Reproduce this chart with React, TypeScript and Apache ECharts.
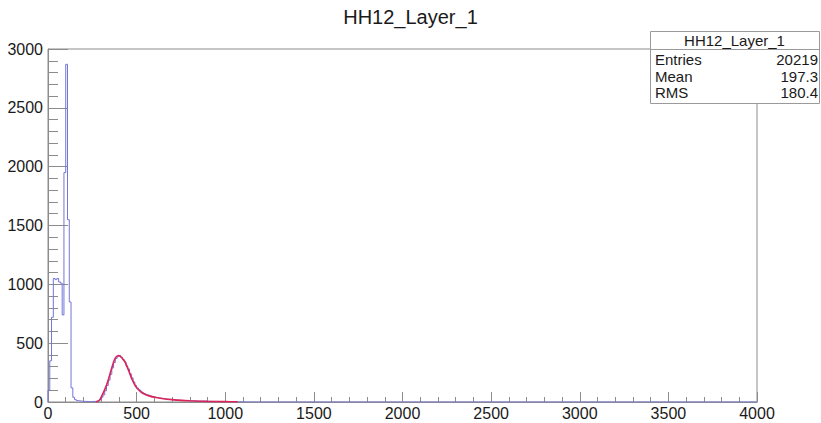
import React, { useEffect, useRef } from "react";
import * as echarts from "echarts";

const TITLE = "HH12_Layer_1";
const BIN_WIDTH = 10;
const X_MIN = 0;
const X_MAX = 4000;
const Y_MAX = 3000;

// bin contents, bins of width 10 starting at 0 (bins after the list are empty)
const peakBins = [100, 350, 720, 1050, 1040, 1050, 1020, 1010, 740, 1950, 2870, 1550, 850, 120];
const valleyBins = [40, 20, 12, 10, 8, 6, 5, 5, 4, 4, 4, 5];
const signalBins = [
  5, 8, 10, 20, 40, 60, 95, 140, 185, 235, 290, 335, 370, 385, 395, 380, 360, 340, 305, 280,
  240, 205, 170, 140, 120, 105, 92, 80, 72, 64, 58, 52, 47, 44, 40, 37, 34, 32, 30, 28,
  26, 24, 22, 21, 20, 18, 17, 16, 15, 14, 13, 12, 11, 11, 10,
];
const tailBins = [10, 9, 9, 8, 8, 7, 7, 7, 6, 6, 6, 5, 5, 5, 5, 4, 4, 4, 4, 3, 3, 3, 3, 3, 2, 2, 2, 2, 1, 1];

// fit curve
const fitX = [270, 290, 303, 320, 340, 355, 368, 380, 397, 410, 420, 433, 453, 475, 500, 525, 546, 575, 602, 651, 700, 750, 800, 850, 900, 950, 1000, 1070];
const fitY = [0, 15, 50, 105, 188, 265, 330, 375, 395, 385, 370, 345, 275, 190, 120, 85, 66, 50, 40, 28, 20, 14, 10, 7, 5, 4, 3, 2];

const statsLabels = ["Entries", "Mean", "RMS"];
const statsValues = ["20219", "197.3", "180.4"];

const FONT = "'Liberation Sans', Arial, Helvetica, sans-serif";

export default function App() {
  const ref = useRef<HTMLDivElement>(null);
  useEffect(() => {
    if (!ref.current) return;
    const chart = echarts.init(ref.current, undefined, { renderer: "svg" });
    const counts = [...peakBins, ...valleyBins, ...signalBins, ...tailBins];
    const nBins = Math.round((X_MAX - X_MIN) / BIN_WIDTH);
    const histData: number[][] = [[X_MIN, 0]];
    for (let i = 0; i < nBins; i++) {
      histData.push([X_MIN + i * BIN_WIDTH, counts[i] ?? 0]);
    }
    histData.push([X_MAX, 0]);
    const fitData = fitX.map((x, i) => [x, fitY[i]]);

    const axisColor = "#8c8c8c";
    const labelStyle = { color: "#1a1a1a", fontSize: 16, fontFamily: FONT, formatter: (v: number) => String(v) };

    const boxLeft = 650;
    const boxTop = 31;
    const boxW = 169;
    const boxH = 72;
    const rowY = [59, 76, 92];

    const graphics: any[] = [
      {
        type: "rect",
        z: 100,
        shape: { x: boxLeft + 0.5, y: boxTop + 0.5, width: boxW, height: boxH },
        style: { fill: "#ffffff", stroke: "#9a9a9a", lineWidth: 1 },
      },
      {
        type: "line",
        z: 101,
        shape: { x1: boxLeft, y1: 49.5, x2: boxLeft + boxW, y2: 49.5 },
        style: { stroke: "#9a9a9a", lineWidth: 1 },
      },
      {
        type: "text",
        z: 102,
        x: boxLeft + boxW / 2,
        y: 40,
        style: { text: TITLE, fill: "#1a1a1a", font: `15px ${FONT}`, textAlign: "center", textVerticalAlign: "middle" },
      },
    ];
    statsLabels.forEach((lab, i) => {
      graphics.push({
        type: "text",
        z: 102,
        x: boxLeft + 5,
        y: rowY[i],
        style: { text: lab, fill: "#1a1a1a", font: `15px ${FONT}`, textAlign: "left", textVerticalAlign: "middle" },
      });
      graphics.push({
        type: "text",
        z: 102,
        x: boxLeft + boxW - 1,
        y: rowY[i],
        style: { text: statsValues[i], fill: "#1a1a1a", font: `15px ${FONT}`, textAlign: "right", textVerticalAlign: "middle" },
      });
    });

    chart.setOption({
      animation: false,
      backgroundColor: "#ffffff",
      title: {
        text: TITLE,
        left: "center",
        top: 2,
        textStyle: { fontSize: 20, fontWeight: "normal", color: "#1a1a1a", fontFamily: FONT },
      },
      grid: {
        left: 48,
        right: 64,
        top: 49,
        bottom: 21,
        show: true,
        borderColor: axisColor,
        borderWidth: 1,
        backgroundColor: "transparent",
        containLabel: false,
        outerBoundsMode: "none",
      },
      xAxis: {
        type: "value",
        min: X_MIN,
        max: X_MAX,
        interval: 500,
        axisLine: { show: true, lineStyle: { color: axisColor } },
        axisTick: { show: true, inside: true, length: 10, lineStyle: { color: axisColor } },
        minorTick: { show: true, splitNumber: 5, length: 5, lineStyle: { color: axisColor } },
        splitLine: { show: false },
        axisLabel: { ...labelStyle, margin: 3 },
      },
      yAxis: {
        type: "value",
        min: 0,
        max: Y_MAX,
        interval: 500,
        axisLine: { show: true, lineStyle: { color: axisColor } },
        axisTick: { show: true, inside: true, length: 20, lineStyle: { color: axisColor } },
        minorTick: { show: true, splitNumber: 5, length: 10, lineStyle: { color: axisColor } },
        splitLine: { show: false },
        axisLabel: { ...labelStyle, margin: 5 },
      },
      series: [
        {
          type: "line",
          name: "hist",
          step: "end",
          data: histData,
          symbol: "none",
          lineStyle: { color: "#7474d8", width: 1 },
          z: 2,
        },
        {
          type: "line",
          name: "fit",
          data: fitData,
          smooth: 0.3,
          symbol: "none",
          lineStyle: { color: "#dc2458", width: 1.6 },
          z: 3,
        },
      ],
      graphic: graphics,
    });
    return () => chart.dispose();
  }, []);
  return <div ref={ref} style={{ position: "fixed", left: 0, top: 0, width: 821, height: 423 }} />;
}
